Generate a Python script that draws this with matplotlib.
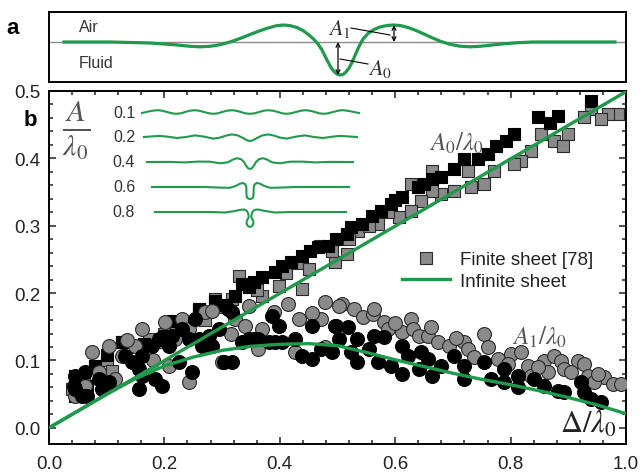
import matplotlib
matplotlib.use("Agg")
import matplotlib.pyplot as plt
from matplotlib.lines import Line2D

plt.rcParams['font.family'] = ['Liberation Sans', 'DejaVu Sans']
plt.rcParams['mathtext.fontset'] = 'stix'

GREEN = '#1f9a4c'
GRAY = '#8a8a8a'

# ---- data: amplitude of central trough, A0/lambda0 ----
sq_gray_x = [0.986, 0.969, 0.939, 0.927, 0.900, 0.875, 0.853, 0.836, 0.818, 0.806, 0.772, 0.754, 0.732,
             0.727, 0.702, 0.680, 0.663, 0.663, 0.645, 0.628, 0.628, 0.606, 0.588, 0.571, 0.536, 0.520,
             0.516, 0.495, 0.450, 0.438, 0.398, 0.369, 0.339, 0.317, 0.287, 0.260, 0.242, 0.173, 0.126,
             0.080, 0.052, 0.470, 0.490, 0.410, 0.430, 0.360, 0.300, 0.220, 0.200, 0.150, 0.100, 0.060,
             0.270, 0.957, 0.890, 0.555, 0.330, 0.110, 0.040, 0.190]
sq_gray_y = [0.466, 0.466, 0.473, 0.461, 0.436, 0.426, 0.436, 0.411, 0.396, 0.392, 0.381, 0.362, 0.358,
             0.381, 0.352, 0.347, 0.381, 0.352, 0.337, 0.362, 0.322, 0.313, 0.320, 0.303, 0.292, 0.280,
             0.258, 0.246, 0.236, 0.206, 0.211, 0.196, 0.214, 0.191, 0.191, 0.174, 0.151, 0.132, 0.128,
             0.092, 0.047, 0.270, 0.262, 0.230, 0.245, 0.205, 0.180, 0.150, 0.140, 0.120, 0.100, 0.070,
             0.160, 0.458, 0.418, 0.300, 0.225, 0.085, 0.058, 0.128]

sq_black_x = [0.939, 0.882, 0.848, 0.806, 0.792, 0.761, 0.744, 0.720, 0.702, 0.680, 0.663, 0.640, 0.611,
              0.593, 0.576, 0.559, 0.542, 0.524, 0.516, 0.498, 0.484, 0.467, 0.438, 0.420, 0.403, 0.391,
              0.356, 0.346, 0.334, 0.322, 0.287, 0.260, 0.235, 0.201, 0.126, 0.080, 0.045, 0.045,
              0.868, 0.775, 0.650, 0.600, 0.452, 0.370, 0.305, 0.215, 0.165, 0.100, 0.065]
sq_black_y = [0.485, 0.463, 0.461, 0.436, 0.426, 0.407, 0.399, 0.399, 0.384, 0.372, 0.369, 0.358, 0.343,
              0.332, 0.322, 0.315, 0.303, 0.298, 0.288, 0.280, 0.270, 0.269, 0.255, 0.246, 0.240, 0.231,
              0.217, 0.209, 0.214, 0.196, 0.188, 0.177, 0.147, 0.136, 0.128, 0.092, 0.047, 0.077,
              0.452, 0.418, 0.362, 0.338, 0.262, 0.224, 0.183, 0.158, 0.125, 0.108, 0.062]

# ---- data: amplitude of side crests, A1/lambda0 ----
ci_gray_x = [0.507, 0.528, 0.545, 0.562, 0.581, 0.628, 0.588, 0.611, 0.631, 0.642, 0.657, 0.675, 0.694,
             0.720, 0.754, 0.727, 0.737, 0.779, 0.801, 0.818, 0.830, 0.858, 0.875, 0.888, 0.893, 0.917,
             0.927, 0.905, 0.934, 0.962, 0.978, 0.991, 0.945, 0.836, 0.865,
             0.074, 0.104, 0.161, 0.201, 0.230, 0.270, 0.282, 0.346, 0.415, 0.478, 0.503, 0.433, 0.472,
             0.322, 0.242, 0.339, 0.369, 0.218, 0.149, 0.126, 0.087, 0.045, 0.242, 0.299, 0.363, 0.426,
             0.478, 0.208, 0.114, 0.062,
             0.564, 0.600, 0.662, 0.705, 0.760, 0.795, 0.848, 0.952, 0.455, 0.390, 0.315, 0.180, 0.135]
ci_gray_y = [0.184, 0.177, 0.165, 0.169, 0.157, 0.162, 0.147, 0.142, 0.147, 0.137, 0.137, 0.128, 0.122,
             0.128, 0.139, 0.117, 0.105, 0.102, 0.110, 0.113, 0.092, 0.099, 0.107, 0.099, 0.088, 0.099,
             0.095, 0.083, 0.077, 0.076, 0.065, 0.065, 0.068, 0.077, 0.083,
             0.113, 0.122, 0.147, 0.157, 0.162, 0.172, 0.174, 0.181, 0.184, 0.187, 0.181, 0.162, 0.162,
             0.162, 0.147, 0.151, 0.147, 0.132, 0.122, 0.107, 0.083, 0.047, 0.068, 0.098, 0.117, 0.113,
             0.120, 0.092, 0.073, 0.062,
             0.177, 0.155, 0.150, 0.133, 0.120, 0.095, 0.090, 0.080, 0.170, 0.172, 0.140, 0.100, 0.130]

ci_black_x = [0.498, 0.519, 0.502, 0.533, 0.564, 0.581, 0.554, 0.524, 0.533, 0.571, 0.611, 0.623, 0.593,
              0.611, 0.645, 0.657, 0.642, 0.663, 0.680, 0.702, 0.720, 0.720, 0.754, 0.766, 0.789, 0.789,
              0.813, 0.813, 0.841, 0.858, 0.882, 0.893, 0.922, 0.927, 0.939, 0.957,
              0.045, 0.045, 0.062, 0.066, 0.092, 0.104, 0.131, 0.144, 0.161, 0.161, 0.178, 0.196, 0.213,
              0.230, 0.253, 0.260, 0.282, 0.311, 0.317, 0.294, 0.304, 0.334, 0.346, 0.363, 0.381, 0.403,
              0.426, 0.455, 0.472, 0.490, 0.386, 0.398, 0.455, 0.495, 0.225, 0.247, 0.183, 0.196, 0.156,
              0.317,
              0.043, 0.057, 0.087, 0.156, 0.208, 0.242, 0.265, 0.277, 0.356, 0.391, 0.438, 0.190]
ci_black_y = [0.151, 0.150, 0.132, 0.132, 0.137, 0.135, 0.117, 0.113, 0.098, 0.098, 0.122, 0.107, 0.092,
              0.080, 0.113, 0.102, 0.088, 0.077, 0.092, 0.107, 0.092, 0.073, 0.098, 0.073, 0.088, 0.068,
              0.077, 0.061, 0.073, 0.062, 0.055, 0.053, 0.068, 0.053, 0.043, 0.039,
              0.077, 0.058, 0.083, 0.047, 0.058, 0.068, 0.107, 0.098, 0.107, 0.077, 0.122, 0.132, 0.137,
              0.147, 0.162, 0.132, 0.122, 0.177, 0.172, 0.147, 0.098, 0.128, 0.132, 0.132, 0.128, 0.128,
              0.132, 0.102, 0.117, 0.113, 0.166, 0.151, 0.151, 0.151, 0.098, 0.083, 0.073, 0.062, 0.058,
              0.098,
              0.062, 0.047, 0.073, 0.088, 0.122, 0.132, 0.122, 0.137, 0.132, 0.128, 0.107, 0.132]

# ---- infinite-sheet theory ----
theory_a0_x = [0.0, 1.0]
theory_a0_y = [0.0, 0.499]
theory_a1_x = [0.0, 0.05, 0.10, 0.15, 0.20, 0.25, 0.30, 0.35, 0.40, 0.45, 0.50, 0.55, 0.60, 0.65,
               0.70, 0.75, 0.80, 0.85, 0.90, 0.95, 1.0]
theory_a1_y = [0.0, 0.025, 0.050, 0.073, 0.092, 0.105, 0.115, 0.121, 0.124, 0.125, 0.122, 0.112, 0.101,
               0.091, 0.081, 0.072, 0.064, 0.055, 0.045, 0.034, 0.021]

x_ticks = [0.0, 0.2, 0.4, 0.6, 0.8, 1.0]
y_ticks = [0.0, 0.1, 0.2, 0.3, 0.4, 0.5]

# ---- surface profile sketch (panel a), heights in px above the rest level ----
wave_x = [64, 110, 150, 175, 190, 200, 210, 220, 230, 240, 250, 260, 268, 276, 283, 290, 297, 303, 309,
          314, 318, 322, 325, 328, 331, 334, 337, 340, 343, 346, 349, 352, 355, 359, 363, 368, 374, 380,
          387, 394, 401, 408, 416, 424, 432, 441, 450, 460, 470, 480, 492, 505, 518, 533, 570, 615]
wave_h = [0, 0, -1, -2.8, -4.3, -4.8, -4.3, -2.7, 0, 3.5, 7.5, 11.3, 14, 16.2, 17, 16.4, 14.5, 11.5, 7,
          2.5, -2, -8, -14, -20, -25.5, -29.5, -32, -33, -32.5, -30, -26, -20.5, -13.5, -4.5, 3, 8.5,
          12.5, 15, 16.5, 17, 16.3, 14.5, 11.5, 8, 4.3, 0.5, -2.3, -4.2, -4.8, -4.3, -3, -1.7, -0.7, 0, 0, 0]

# ---- small profile sketches for increasing amplitude ----
prof_labels = ['0.1', '0.2', '0.4', '0.6', '0.8']
prof_01 = [(-108, -1.0), (-101, 0.6), (-96, 1.5), (-92, 1.8), (-88, 1.3), (-83, 0), (-78, -1.3), (-74, -1.8),
           (-69, -1.3), (-65, 0), (-60, 1.3), (-55, 1.8), (-51, 1.3), (-46, 0), (-41, -1.3), (-37, -1.8),
           (-32, -1.3), (-28, 0), (-23, 1.3), (-18, 1.8), (-14, 1.3), (-9, 0), (-5, -1.3), (0, -1.8),
           (5, -1.3), (9, 0), (14, 1.3), (18, 1.8), (23, 1.3), (28, 0), (32, -1.3), (37, -1.8), (41, -1.3),
           (46, 0), (51, 1.3), (55, 1.8), (60, 1.3), (65, 0), (69, -1.3), (74, -1.8), (78, -1.3), (83, 0),
           (88, 1.3), (92, 1.8), (96, 1.5), (101, 0.6), (109, -1.0)]
prof_02 = [(-106, 0), (-98, 0.6), (-90, 1.1), (-82, 0.3), (-73, -1.0), (-64, 0), (-55, 1.6), (-46, 0.4),
           (-37, -1.6), (-30, -0.6), (-24, 1.4), (-18, 2.6), (-12, 1.5), (-7, -1.0), (-3, -3.3), (0, -4.0),
           (3, -3.3), (7, -1.0), (12, 1.5), (18, 2.6), (24, 1.4), (30, -0.6), (37, -1.6), (46, 0.4),
           (55, 1.6), (64, 0), (73, -1.0), (82, 0.3), (90, 1.1), (98, 0.6), (107, 0)]
prof_04 = [(-103, 0), (-80, 0.1), (-65, -0.4), (-52, 0.4), (-40, 0.3), (-30, -1.3), (-22, -0.3),
           (-17, 2.5), (-13, 3.8), (-9, 2.8), (-6, 0), (-4, -3.5), (-2, -6.2), (0, -7.0), (2, -6.2),
           (4, -3.5), (6, 0), (9, 2.8), (13, 3.8), (17, 2.5), (22, -0.3), (30, -1.3), (40, 0.3), (52, 0.4),
           (65, -0.4), (80, 0.1), (103, 0)]
prof_06 = [(-98, 0), (-45, 0), (-30, -0.6), (-20, -0.8), (-14, 1.2), (-10, 3.3), (-7, 4.0), (-5, 3.0),
           (-3.9, 1.0), (-3.6, -2), (-3.6, -6), (-3.4, -9), (-2.8, -10.8), (-1.5, -11.7), (0, -12),
           (1.5, -11.7), (2.8, -10.8), (3.4, -9), (3.6, -6), (3.6, -2), (3.9, 1.0), (5, 3.0), (7, 4.0),
           (10, 3.3), (14, 1.2), (20, -0.8), (30, -0.6), (45, 0), (99, 0)]
prof_08 = [(-95, 0), (-40, 0), (-25, -0.5), (-15, 1.0), (-9, 2.3), (-6, 2.5), (-3.5, 1.5), (-2, -1),
           (-1.3, -4), (-1.6, -6), (-2.8, -8), (-3.5, -10), (-3.3, -12), (-2.3, -13.8), (-1, -14.6),
           (0, -14.8), (1, -14.6), (2.3, -13.8), (3.3, -12), (3.5, -10), (2.8, -8), (1.6, -6), (1.3, -4),
           (2, -1), (3.5, 1.5), (6, 2.5), (9, 2.3), (15, 1.0), (25, -0.5), (40, 0), (96, 0)]
profiles = [prof_01, prof_02, prof_04, prof_06, prof_08]

fig = plt.figure(figsize=(6.4, 4.77), dpi=100)
W, H = 640.0, 477.0

# ---------------- panel b ----------------
ax = fig.add_axes([49 / W, 1 - 445 / H, 577 / W, 353 / H])
ax.scatter(sq_gray_x, sq_gray_y, marker='s', s=78, facecolor=GRAY, edgecolor='#2a2a2a', linewidth=0.8,
           zorder=2)
ax.scatter(sq_black_x, sq_black_y, marker='s', s=78, facecolor='black', edgecolor='black', linewidth=0.8,
           zorder=2)
ax.scatter(ci_gray_x, ci_gray_y, marker='o', s=100, facecolor=GRAY, edgecolor='#2a2a2a', linewidth=0.8,
           zorder=3)
ax.scatter(ci_black_x, ci_black_y, marker='o', s=100, facecolor='black', edgecolor='black', linewidth=0.8,
           zorder=3)
ax.plot(theory_a0_x, theory_a0_y, color=GREEN, lw=2.4, zorder=4, solid_capstyle='butt')
ax.plot(theory_a1_x, theory_a1_y, color=GREEN, lw=2.4, zorder=4, solid_capstyle='butt')

ax.set_xlim(0, 1.0)
ax.set_ylim(-0.024, 0.5)
ax.set_xticks(x_ticks)
ax.set_xticklabels([f'{v:.1f}' for v in x_ticks])
ax.set_yticks(y_ticks)
ax.set_yticklabels([f'{v:.1f}' for v in y_ticks])
ax.set_xticks([i * 0.04 for i in range(26)], minor=True)
ax.set_yticks([i * 0.02 for i in range(26)], minor=True)
ax.tick_params(which='both', direction='in', top=True, right=True, width=1.1, labelsize=13.5,
               color='#222222', labelcolor='#222222')
ax.tick_params(which='major', length=5)
ax.tick_params(which='minor', length=3)
ax.tick_params(axis='x', pad=8)
ax.tick_params(axis='y', pad=6)
for sp in ax.spines.values():
    sp.set_linewidth(1.4)

ax.text(0.706, 0.424, r'$A_0/\lambda_0$', fontsize=18, color='#555555', ha='center', va='center')
ax.text(0.851, 0.136, r'$A_1/\lambda_0$', fontsize=18, color='#555555', ha='center', va='center')
ax.text(0.935, 0.006, r'$\Delta/\lambda_0$', fontsize=22, color='#222222', ha='center', va='center')

handles = [Line2D([], [], marker='s', ls='none', markersize=8.5, markerfacecolor=GRAY,
                  markeredgecolor='#2a2a2a', markeredgewidth=0.8),
           Line2D([], [], color=GREEN, lw=2.4)]
ax.legend(handles, ['Finite sheet [78]', 'Infinite sheet'], loc='center left',
          bbox_to_anchor=(0.612, 0.4915), frameon=False, fontsize=13.5, handlelength=2.55,
          handletextpad=0.53, labelspacing=0.22, borderpad=0, borderaxespad=0,
          labelcolor='#222222')

# ---------------- panel a ----------------
axa = fig.add_axes([49 / W, 1 - 83 / H, 577 / W, 70 / H])
axa.set_xlim(49, 626)
axa.set_ylim(-40, 30)
axa.set_xticks([])
axa.set_yticks([])
for sp in axa.spines.values():
    sp.set_linewidth(1.4)
axa.axhline(0, color='#8a8a8a', lw=1.0, zorder=1)
axa.plot(wave_x, wave_h, color=GREEN, lw=2.3, zorder=2, solid_joinstyle='round')
axa.text(79, 15, 'Air', fontsize=11.5, color='#333333', va='center')
axa.text(79, -20, 'Fluid', fontsize=11.5, color='#333333', va='center')
axa.annotate('', xy=(338, -33), xytext=(338, 0),
             arrowprops=dict(arrowstyle='<->', color='black', lw=0.9, mutation_scale=7,
                             shrinkA=0, shrinkB=0))
axa.annotate('', xy=(394, 17), xytext=(394, 0),
             arrowprops=dict(arrowstyle='<->', color='black', lw=0.9, mutation_scale=7,
                             shrinkA=0, shrinkB=0))
axa.plot([351, 390], [14, 7], color='black', lw=0.8)
axa.plot([340, 368], [-17, -22], color='black', lw=0.8)
axa.text(339, 14, r'$A_1$', fontsize=16, color='#333333', ha='center', va='center')
axa.text(380, -26, r'$A_0$', fontsize=16, color='#333333', ha='center', va='center')

# ---------------- overlay: labels and sketches ----------------
ov = fig.add_axes([0, 0, 1, 1], zorder=5)
ov.set_xlim(0, W)
ov.set_ylim(H, 0)
ov.axis('off')
ov.patch.set_alpha(0)
ov.text(13, 28, 'a', fontsize=16, fontweight='bold', ha='center', va='center')
ov.text(30, 121, 'b', fontsize=16, fontweight='bold', ha='center', va='center')
ov.text(76, 130, r'$\frac{A}{\lambda_0}$', fontsize=31, color='#555555', ha='center', va='center')

levels = [113, 138, 163, 188, 213]
for lab, lev, prof in zip(prof_labels, levels, profiles):
    xs = [250 + dx for dx, _ in prof]
    ys = [lev - h for _, h in prof]
    ov.plot(xs, ys, color=GREEN, lw=1.5, solid_joinstyle='round')
    ov.text(124, lev, lab, fontsize=11.5, color='#333333', ha='center', va='center')

fig.savefig('out.png', dpi=100)
